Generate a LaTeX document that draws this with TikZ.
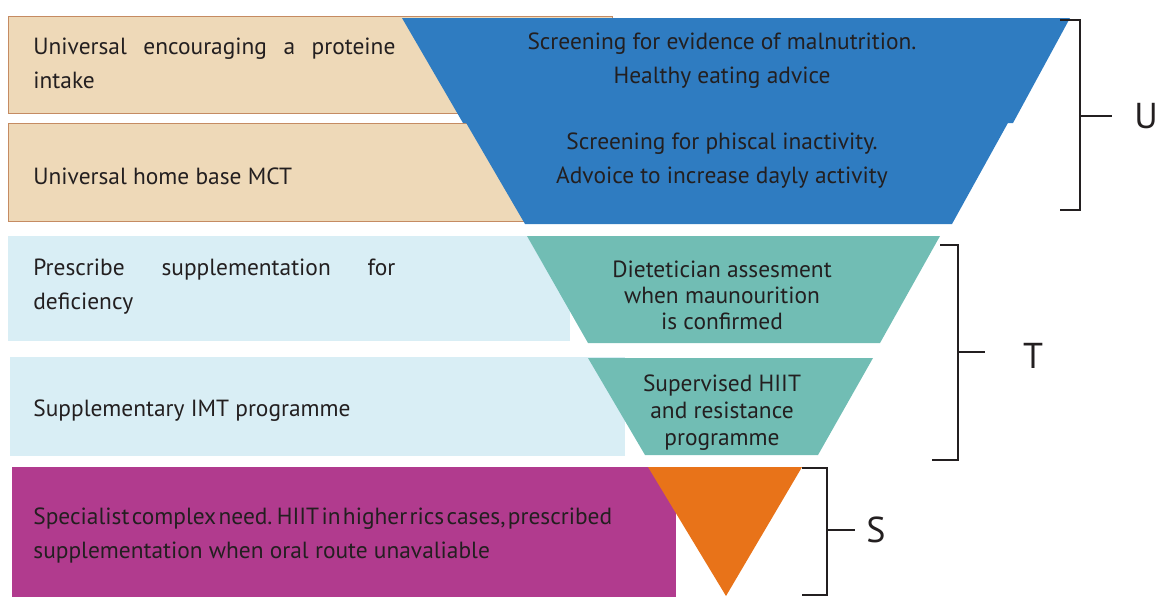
\documentclass[tikz,border=0pt]{standalone}
\usepackage{fontspec}
\setmainfont{PT Sans}
\definecolor{tanfill}{HTML}{EED9B8}
\definecolor{tanline}{HTML}{C58B62}
\definecolor{univblue}{HTML}{2F7CC1}
\definecolor{paleblue}{HTML}{D9EEF5}
\definecolor{targteal}{HTML}{71BDB4}
\definecolor{specmag}{HTML}{B13B8E}
\definecolor{specorange}{HTML}{E87319}
\definecolor{inkdark}{HTML}{231F20}

\begin{document}
\begin{tikzpicture}[
	x = 0.5pt, y = -0.5pt,
	every node/.style = {text = inkdark, inner sep = 0pt, font = \fontsize{11.7}{17}\selectfont},
	boxtext/.style = {anchor = west, text width = 181pt, align = justify},
	funneltext/.style = {align = center},
	bracket/.style = {draw = inkdark, line width = 1pt},
	tierlabel/.style = {font = \fontsize{18}{20}\selectfont}
	]

	\useasboundingbox (0,0) rectangle (1161,596);

	% left boxes
	\filldraw[fill=tanfill, draw=tanline, line width=0.5pt] (8,16) rectangle (612,113);
	\filldraw[fill=tanfill, draw=tanline, line width=0.5pt] (8,123) rectangle (600,221);
	\fill[paleblue] (8,236) rectangle (570,341);
	\fill[paleblue] (10,357) rectangle (625,456);
	\fill[specmag] (12,467) rectangle (676,600);

	% funnel
	\fill[univblue] (402,18) -- (1070,18) -- (1013,123) -- (463,123) -- cycle;
	\fill[univblue] (465,121) -- (1009,121) -- (952,224) -- (525,224) -- cycle;
	\fill[targteal] (527,236) -- (940,236) -- (880,343) -- (588,343) -- cycle;
	\fill[targteal] (588,358) -- (873,358) -- (818,455) -- (645,455) -- cycle;
	\fill[specorange] (648,467) -- (802,467) -- (726,596) -- cycle;

	\node[boxtext] (protein) at (33,63) {Universal encouraging a proteine\linebreak intake};
	\node[boxtext] (mct) at (33,176) {Universal home base MCT};
	\node[boxtext] (prescribe) at (33,287) {Prescribe supplementation for\linebreak deficiency};
	\node[boxtext] (imt) at (33,411) {Supplementary IMT programme};
	\node[anchor=west, align=left] (complex) at (33,535) {\spaceskip=0.1em\relax Specialist complex need. HIIT in higher rics cases, prescribed\\supplementation when oral route unavaliable};

	\node[funneltext] (malnut) at (722,61) {Screening for evidence of malnutrition.\\Healthy eating advice};
	\node[funneltext] (inactive) at (722,161) {Screening for phiscal inactivity.\\Advoice to increase dayly activity};
	\node[funneltext, font=\fontsize{11.7}{13}\selectfont] (dietetic) at (722,295) {Dietetician assesment\\when maunourition\\is confirmed};
	\node[funneltext, font=\fontsize{11.7}{13.5}\selectfont] (hiit) at (722,413) {Supervised HIIT\\and resistance\\programme};

	% brackets
	\coordinate (utop) at (1060,20);
	\coordinate (ubot) at (1060,210);
	\coordinate (umid) at (1080,116);
	\coordinate (ttop) at (940,245);
	\coordinate (tbot) at (932,460);
	\coordinate (tmid) at (958,352);
	\coordinate (stop) at (802,468);
	\coordinate (sbot) at (802,595);
	\coordinate (smid) at (827,530);

	\draw[bracket] (utop) -| (umid) |- (ubot);
	\draw[bracket] (umid) -- ++(32,0);
	\node[tierlabel] (ulab) at (1146,116) {U};

	\draw[bracket] (ttop) -| (tmid) |- (tbot);
	\draw[bracket] (tmid) -- ++(27,0);
	\node[tierlabel] (tlab) at (1033,356) {T};

	\draw[bracket] (stop) -| (smid) |- (sbot);
	\draw[bracket] (smid) -- ++(28,0);
	\node[tierlabel] (slab) at (876,530) {S};

\end{tikzpicture}
\end{document}
